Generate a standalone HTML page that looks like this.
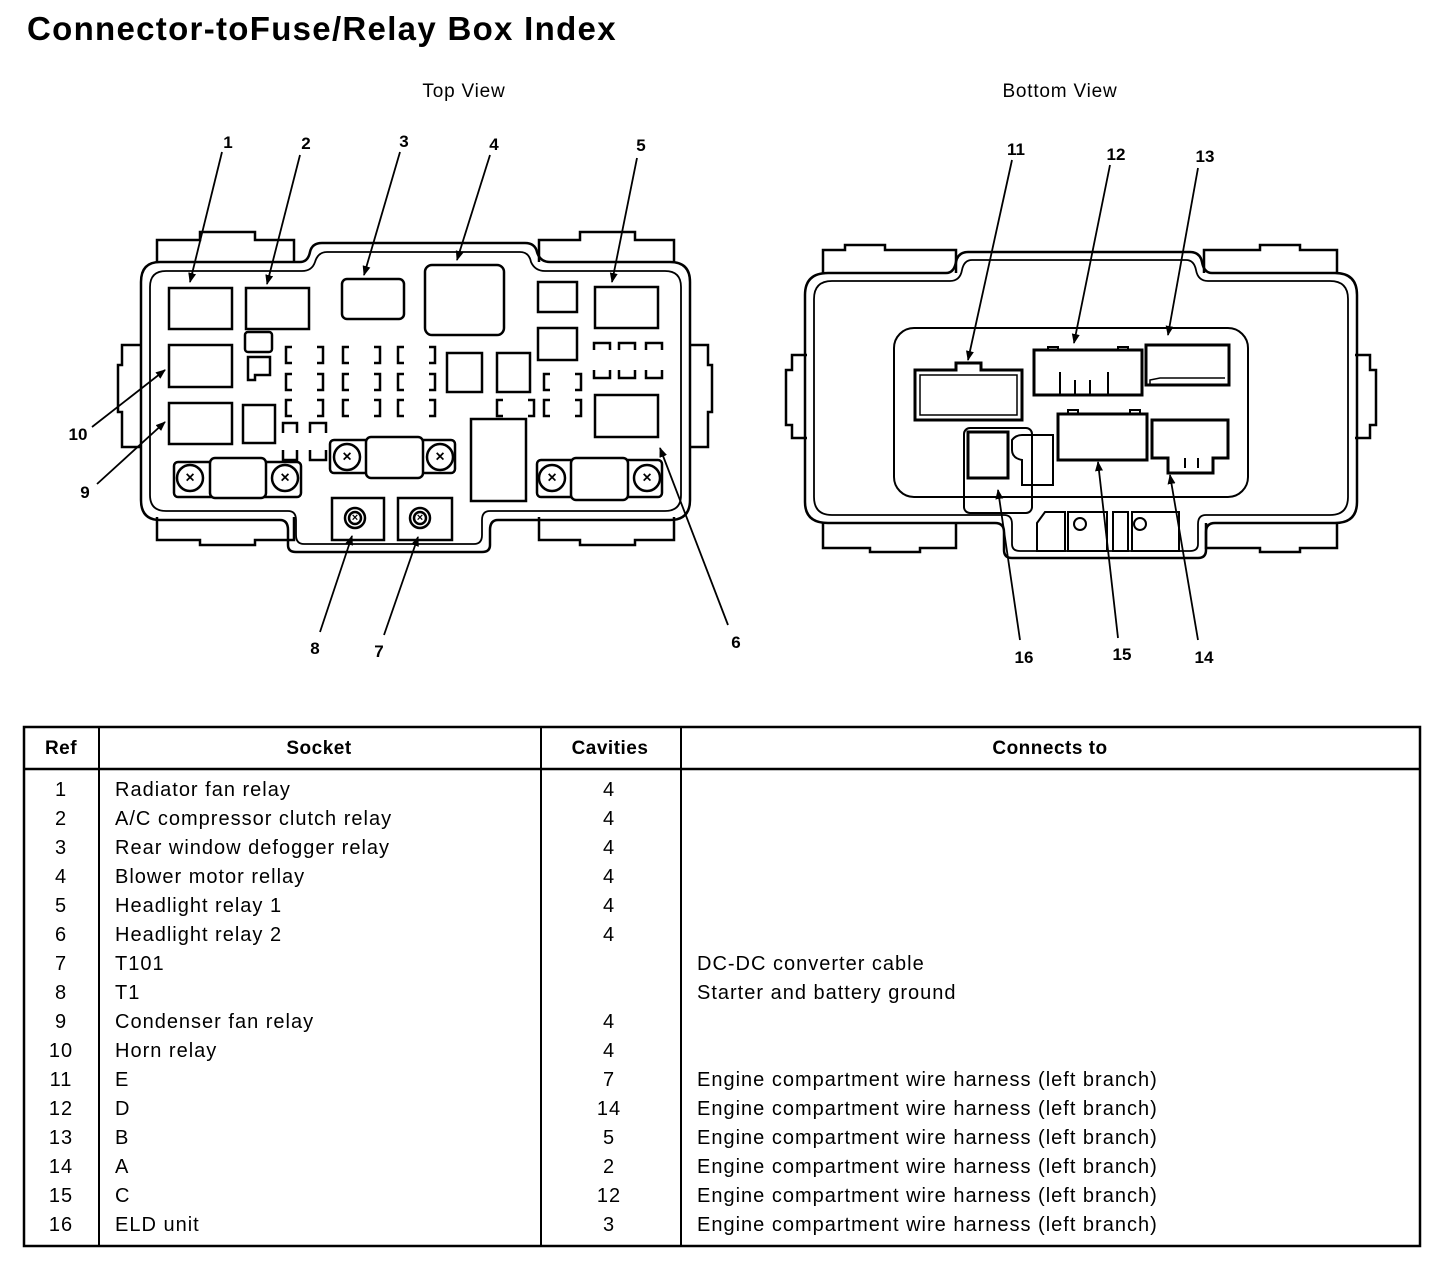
<!DOCTYPE html>
<html><head><meta charset="utf-8"><style>
html,body{margin:0;padding:0;background:#fff}
svg{display:block}
text{font-family:"Liberation Sans",Arial,sans-serif;fill:#000}
</style></head><body>
<svg width="1456" height="1268" viewBox="0 0 1456 1268" xmlns="http://www.w3.org/2000/svg">
<defs>
<marker id="a" markerWidth="10" markerHeight="10" refX="9" refY="5" orient="auto" markerUnits="userSpaceOnUse"><path d="M0,1 L10,5 L0,9 z" fill="#000"/></marker>
</defs>
<text x="27" y="40" font-size="33" font-weight="bold" letter-spacing="1.3">Connector-toFuse/Relay Box Index</text>
<text x="464" y="97" font-size="19" text-anchor="middle" letter-spacing="0.8">Top View</text>
<text x="1060" y="97" font-size="19" text-anchor="middle" letter-spacing="0.8">Bottom View</text>

<g fill="none" stroke="#000" stroke-width="2.5">
<path d="M157,262 V240 H200 V232 H255 V240 H294 V262"/>
<path d="M539,262 V240 H580 V232 H635 V240 H674 V262"/>
<path d="M157,517 V540 H200 V545 H255 V540 H294 V517"/>
<path d="M539,517 V540 H580 V545 H635 V540 H674 V517"/>
<path d="M141,345 H122 V365 H118 V412 H122 V447 H141"/>
<path d="M690,345 H708 V365 H712 V412 H708 V447 H690"/>
<path d="M160,262 H300 Q308,262 310,252 Q312,243 322,243 H525 Q535,243 537,252 Q540,262 550,262 H670 Q690,262 690,282 V500 Q690,520 670,520 H498 Q490,520 490,530 V545 Q490,552 482,552 H296 Q288,552 288,545 V530 Q288,520 280,520 H160 Q141,520 141,500 V282 Q141,262 160,262 Z"/>
<path stroke-width="1.8" d="M166,271 H302 Q312,271 315,262 Q318,252 327,252 H520 Q529,252 531,262 Q535,271 545,271 H665 Q681,271 681,287 V495 Q681,511 665,511 H490 Q482,511 482,520 V535 Q482,544 474,544 H304 Q296,544 296,535 V520 Q296,511 288,511 H166 Q150,511 150,495 V287 Q150,271 166,271 Z"/>
<rect x="169" y="288" width="63" height="41"/>
<rect x="246" y="288" width="63" height="41"/>
<rect x="342" y="279" width="62" height="40" rx="5"/>
<rect x="425" y="265" width="79" height="70" rx="7"/>
<rect x="538" y="282" width="39" height="30"/>
<rect x="595" y="287" width="63" height="41"/>
<rect x="538" y="328" width="39" height="32"/>
<rect x="169" y="345" width="63" height="42"/>
<rect x="169" y="403" width="63" height="41"/>
<rect x="243" y="405" width="32" height="38"/>
<rect x="245" y="332" width="27" height="20" rx="3"/>
<path d="M248,357 H270 V375 H255 V380 H248 Z"/>
<rect x="447" y="353" width="35" height="39"/>
<rect x="497" y="353" width="33" height="39"/>
<rect x="595" y="395" width="63" height="42"/>
<rect x="471" y="419" width="55" height="82"/>
<rect x="174" y="462" width="127" height="35" rx="4"/>
<rect x="210" y="458" width="56" height="40" rx="5" fill="#fff"/>
<circle cx="190" cy="478" r="13"/><circle cx="285" cy="478" r="13"/>
<rect x="330" y="440" width="125" height="33" rx="4"/>
<rect x="366" y="437" width="57" height="41" rx="5" fill="#fff"/>
<circle cx="347" cy="457" r="13"/><circle cx="440" cy="457" r="13"/>
<rect x="537" y="460" width="125" height="37" rx="4"/>
<rect x="571" y="458" width="57" height="42" rx="5" fill="#fff"/>
<circle cx="552" cy="478" r="13"/><circle cx="647" cy="478" r="13"/>
<rect x="332" y="498" width="52" height="42"/>
<rect x="398" y="498" width="54" height="42"/>
<circle cx="355" cy="518" r="10"/><circle cx="355" cy="518" r="6"/>
<circle cx="420" cy="518" r="10"/><circle cx="420" cy="518" r="6"/>
</g>
<g font-size="16" font-weight="bold" text-anchor="middle" dominant-baseline="central">
<text x="190" y="478">×</text><text x="285" y="478">×</text>
<text x="347" y="457">×</text><text x="440" y="457">×</text>
<text x="552" y="478">×</text><text x="647" y="478">×</text>
<text x="355" y="518" font-size="11">×</text><text x="420" y="518" font-size="11">×</text>
</g>
<g fill="none" stroke="#000" stroke-width="2.5">
<path id="br" d="M292,347 H286 V363 H292 M317,347 H323 V363 H317"/>
<use href="#br" x="0" y="27"/><use href="#br" x="0" y="53"/>
<use href="#br" x="57" y="0"/><use href="#br" x="57" y="27"/><use href="#br" x="57" y="53"/>
<use href="#br" x="112" y="0"/><use href="#br" x="112" y="27"/><use href="#br" x="112" y="53"/>
<use href="#br" x="258" y="27"/><use href="#br" x="258" y="53"/><use href="#br" x="211" y="53"/>
<path id="vb" d="M594,350 V343 H610 V350 M594,370 V378 H610 V370"/>
<use href="#vb" x="25" y="0"/><use href="#vb" x="52" y="0"/>
<path d="M283,433 V423 H297 V433 M283,450 V460 H297 V450 M310,433 V423 H326 V433 M310,450 V460 H326 V450"/>
</g>
<g stroke="#000" stroke-width="1.8" marker-end="url(#a)">
<line x1="222" y1="152" x2="190" y2="282"/>
<line x1="300" y1="155" x2="267" y2="284"/>
<line x1="400" y1="152" x2="364" y2="275"/>
<line x1="490" y1="155" x2="457" y2="260"/>
<line x1="637" y1="158" x2="612" y2="282"/>
<line x1="728" y1="625" x2="660" y2="448"/>
<line x1="384" y1="635" x2="418" y2="537"/>
<line x1="320" y1="632" x2="352" y2="536"/>
<line x1="92" y1="427" x2="165" y2="370"/>
<line x1="97" y1="484" x2="165" y2="422"/>
<line x1="1012" y1="160" x2="968" y2="360"/>
<line x1="1110" y1="165" x2="1074" y2="343"/>
<line x1="1198" y1="168" x2="1168" y2="335"/>
<line x1="1020" y1="640" x2="998" y2="490"/>
<line x1="1118" y1="638" x2="1098" y2="462"/>
<line x1="1198" y1="640" x2="1170" y2="475"/>
</g>
<g font-size="17" font-weight="bold" text-anchor="middle">
<text x="228" y="148">1</text><text x="306" y="149">2</text><text x="404" y="147">3</text><text x="494" y="150">4</text><text x="641" y="151">5</text>
<text x="736" y="648">6</text><text x="379" y="657">7</text><text x="315" y="654">8</text><text x="85" y="498">9</text><text x="78" y="440">10</text>
<text x="1016" y="155">11</text><text x="1116" y="160">12</text><text x="1205" y="162">13</text>
<text x="1204" y="663">14</text><text x="1122" y="660">15</text><text x="1024" y="663">16</text>
</g>

<g fill="none" stroke="#000" stroke-width="2.5">
<path d="M823,273 V250 H845 V245 H885 V250 H956 V273"/>
<path d="M1204,273 V250 H1260 V245 H1300 V250 H1337 V273"/>
<path d="M823,523 V548 H870 V552 H920 V548 H956 V523"/>
<path d="M1206,523 V548 H1260 V552 H1300 V548 H1337 V523"/>
<path d="M807,355 H792 V370 H786 V425 H792 V438 H807"/>
<path d="M1355,355 H1370 V370 H1376 V425 H1370 V438 H1355"/>
<path d="M828,273 H946 Q954,273 956,262 Q958,252 968,252 H1190 Q1200,252 1202,262 Q1204,273 1212,273 H1335 Q1357,273 1357,295 V502 Q1357,523 1335,523 H1215 Q1206,523 1206,532 V550 Q1206,558 1198,558 H1012 Q1004,558 1004,550 V532 Q1004,523 995,523 H828 Q805,523 805,502 V295 Q805,273 828,273 Z"/>
<path stroke-width="1.8" d="M832,281 H950 Q960,281 962,270 Q964,260 972,260 H1186 Q1194,260 1196,270 Q1198,281 1208,281 H1330 Q1348,281 1348,299 V497 Q1348,515 1330,515 H1206 Q1198,515 1198,524 V544 Q1198,551 1190,551 H1020 Q1012,551 1012,544 V524 Q1012,515 1004,515 H832 Q814,515 814,497 V299 Q814,281 832,281 Z"/>
<rect x="894" y="328" width="354" height="169" rx="20" stroke-width="2"/>
<path d="M915,370 H956 V363 H981 V370 H1022 V420 H915 Z" stroke-width="3"/>
<path d="M920,375 H1017 V415 H920 Z" stroke-width="1.5"/>
<rect x="1034" y="350" width="108" height="45" stroke-width="3"/>
<path d="M1048,350 V347 H1058 V350 M1118,350 V347 H1128 V350 M1060,372 V395 M1075,380 V395 M1090,380 V395 M1108,372 V395" stroke-width="2"/>
<rect x="1146" y="345" width="83" height="40" stroke-width="3"/>
<path d="M1150,385 V380 L1160,378 H1225" stroke-width="1.5"/>
<rect x="1058" y="414" width="89" height="46" stroke-width="3"/>
<path d="M1068,414 V410 H1078 V414 M1130,414 V410 H1140 V414" stroke-width="2"/>
<path d="M1152,420 H1228 V458 H1213 V473 H1168 V458 H1152 Z" stroke-width="3"/>
<path d="M1185,458 V468 M1198,458 V468" stroke-width="2"/>
<rect x="964" y="428" width="68" height="85" rx="6" stroke-width="2"/>
<rect x="968" y="432" width="40" height="46" stroke-width="3"/>
<path d="M1012,440 Q1016,435 1022,435 H1053 V485 H1022 V460 Q1012,458 1012,450 Z" stroke-width="2"/>
<path d="M1037,523 L1045,512 H1065 V551 H1037 Z" stroke-width="2"/>
<rect x="1068" y="512" width="39" height="39" stroke-width="2"/>
<circle cx="1080" cy="524" r="6" stroke-width="2"/>
<rect x="1113" y="512" width="15" height="39" stroke-width="2"/>
<rect x="1132" y="512" width="47" height="39" stroke-width="2"/>
<circle cx="1140" cy="524" r="6" stroke-width="2"/>
</g>

<g stroke="#000" fill="none">
<rect x="24" y="727" width="1396" height="519" stroke-width="2.5"/>
<line x1="24" y1="769" x2="1420" y2="769" stroke-width="2.5"/>
<line x1="99" y1="727" x2="99" y2="1246" stroke-width="2"/>
<line x1="541" y1="727" x2="541" y2="1246" stroke-width="2"/>
<line x1="681" y1="727" x2="681" y2="1246" stroke-width="2"/>
</g>
<g font-size="19" font-weight="bold" text-anchor="middle" letter-spacing="0.5">
<text x="61" y="754">Ref</text><text x="319" y="754">Socket</text><text x="610" y="754">Cavities</text><text x="1050" y="754">Connects to</text>
</g>
<g font-size="20" letter-spacing="1">
<g text-anchor="middle">
<text x="61" y="796">1</text><text x="61" y="825">2</text><text x="61" y="854">3</text><text x="61" y="883">4</text>
<text x="61" y="912">5</text><text x="61" y="941">6</text><text x="61" y="970">7</text><text x="61" y="999">8</text>
<text x="61" y="1028">9</text><text x="61" y="1057">10</text><text x="61" y="1086">11</text><text x="61" y="1115">12</text>
<text x="61" y="1144">13</text><text x="61" y="1173">14</text><text x="61" y="1202">15</text><text x="61" y="1231">16</text>
<text x="609" y="796">4</text><text x="609" y="825">4</text><text x="609" y="854">4</text><text x="609" y="883">4</text>
<text x="609" y="912">4</text><text x="609" y="941">4</text>
<text x="609" y="1028">4</text><text x="609" y="1057">4</text><text x="609" y="1086">7</text><text x="609" y="1115">14</text>
<text x="609" y="1144">5</text><text x="609" y="1173">2</text><text x="609" y="1202">12</text><text x="609" y="1231">3</text>
</g>
<text x="115" y="796">Radiator fan relay</text>
<text x="115" y="825">A/C compressor clutch relay</text>
<text x="115" y="854">Rear window defogger relay</text>
<text x="115" y="883">Blower motor rellay</text>
<text x="115" y="912">Headlight relay 1</text>
<text x="115" y="941">Headlight relay 2</text>
<text x="115" y="970">T101</text>
<text x="115" y="999">T1</text>
<text x="115" y="1028">Condenser fan relay</text>
<text x="115" y="1057">Horn relay</text>
<text x="115" y="1086">E</text>
<text x="115" y="1115">D</text>
<text x="115" y="1144">B</text>
<text x="115" y="1173">A</text>
<text x="115" y="1202">C</text>
<text x="115" y="1231">ELD unit</text>
<text x="697" y="970">DC-DC converter cable</text>
<text x="697" y="999">Starter and battery ground</text>
<text x="697" y="1086">Engine compartment wire harness (left branch)</text>
<text x="697" y="1115">Engine compartment wire harness (left branch)</text>
<text x="697" y="1144">Engine compartment wire harness (left branch)</text>
<text x="697" y="1173">Engine compartment wire harness (left branch)</text>
<text x="697" y="1202">Engine compartment wire harness (left branch)</text>
<text x="697" y="1231">Engine compartment wire harness (left branch)</text>
</g>
</svg>
</body></html>
